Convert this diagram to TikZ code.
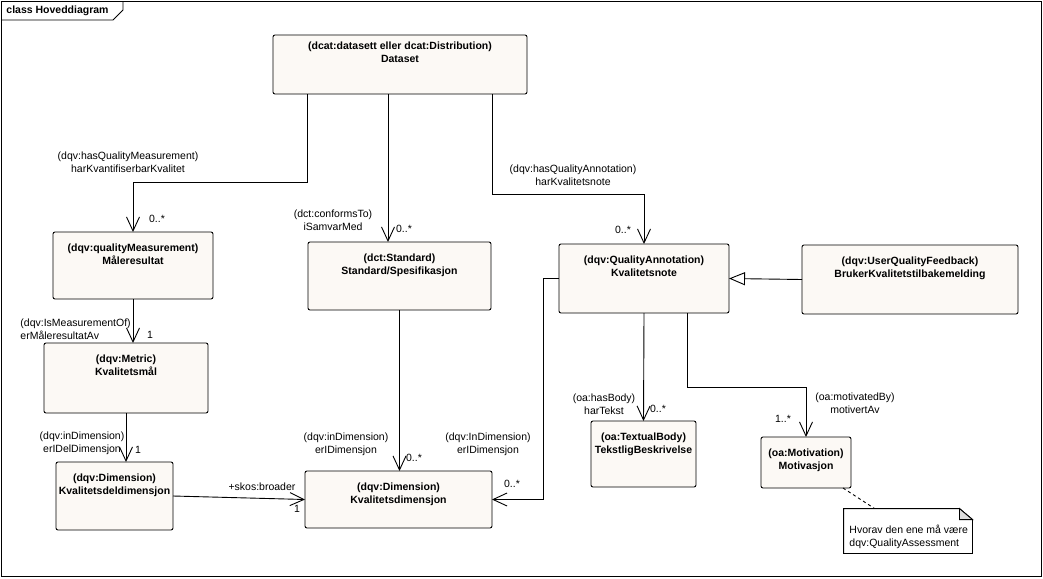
\documentclass[tikz,border=0pt]{standalone}
\usepackage{fontspec}
\setmainfont{Liberation Sans}
\usetikzlibrary{arrows.meta}

\definecolor{classfill}{RGB}{252,249,245}
\definecolor{foldgray}{RGB}{220,220,220}

\begin{document}
\begin{tikzpicture}[x=1pt,y=-1pt,line width=0.9pt,
    every node/.style={font=\fontsize{10.5}{13}\selectfont},
    classbox/.style={draw,rounded corners=2pt,fill=classfill,inner sep=0pt,outer sep=0pt},
    classname/.style={anchor=north,yshift=-11.5pt,align=center,inner sep=0pt,
      font=\fontsize{10.5}{13}\selectfont\bfseries},
    assoc/.style={-{Straight Barb[length=14pt,width=13pt]}},
    gen/.style={-{Triangle[open,length=16pt,width=13pt,fill=white]}},
    role/.style={align=center,inner sep=0pt},
    mult/.style={inner sep=0pt}]

      \useasboundingbox (0,0) rectangle (1043,578);

      % frame
      \draw (1.5,1.5) rectangle (1041.5,576.5);
      \draw (1.5,20) -- (113,20) -- (123,10) -- (123,1.5);
      \node[anchor=west,inner sep=0pt,font=\fontsize{10.5}{13}\selectfont\bfseries] (frametitle) at (6,11) {class Hoveddiagram};

      % classes
      \begin{scope}[every node/.append style={classbox}]
        \node[minimum width=254pt,minimum height=59pt,
          label={[classname,yshift=5pt]north:{(dcat:datasett eller dcat:Distribution)\\Dataset}}] (dataset) at (400,64.5) {};
        \node[minimum width=160pt,minimum height=67pt,
          label={[classname]north:{(dqv:qualityMeasurement)\\Måleresultat}}] (maal) at (133,265.5) {};
        \node[minimum width=164pt,minimum height=70pt,
          label={[classname]north:{(dqv:Metric)\\Kvalitetsmål}}] (metric) at (126,378) {};
        \node[minimum width=117pt,minimum height=68pt,
          label={[classname]north:{(dqv:Dimension)\\Kvalitetsdeldimensjon}}] (deldim) at (114.5,496) {};
        \node[minimum width=183pt,minimum height=68pt,
          label={[classname]north:{(dct:Standard)\\Standard/Spesifikasjon}}] (standard) at (399.5,276) {};
        \node[minimum width=187pt,minimum height=57pt,
          label={[classname]north:{(dqv:Dimension)\\Kvalitetsdimensjon}}] (dim) at (398.5,499.5) {};
        \node[minimum width=170pt,minimum height=69pt,
          label={[classname]north:{(dqv:QualityAnnotation)\\Kvalitetsnote}}] (note) at (644,278.5) {};
        \node[minimum width=216pt,minimum height=69pt,
          label={[classname]north:{(dqv:UserQualityFeedback)\\BrukerKvalitetstilbakemelding}}] (feedback) at (910,279.5) {};
        \node[minimum width=105pt,minimum height=66pt,
          label={[classname]north:{(oa:TextualBody)\\TekstligBeskrivelse}}] (body) at (643.5,454) {};
        \node[minimum width=90pt,minimum height=51pt,
          label={[classname]north:{(oa:Motivation)\\Motivasjon}}] (motiv) at (806,462.5) {};
      \end{scope}

      % comment
      \node[minimum width=128pt,minimum height=44pt,inner sep=0pt] (comment) at (908,531) {};
      \draw[fill=white] (comment.north west) -- ([xshift=-13pt]comment.north east)
        -- ([yshift=-11pt]comment.north east) -- (comment.south east) -- (comment.south west) -- cycle;
      \draw[fill=foldgray] ([xshift=-13pt]comment.north east) -- ([yshift=-11pt]comment.north east)
        -- ([xshift=-13pt,yshift=-11pt]comment.north east) -- cycle;
      \node[anchor=west,align=left,inner sep=0pt] (commenttext) at (849,536.5) {Hvorav den ene må være\\dqv:QualityAssessment};
      \draw[dash pattern=on 3pt off 3pt] ([xshift=-8pt]motiv.south east) -- ([xshift=31pt]comment.north west);

      % connectors
      \draw[assoc] ([xshift=-93pt]dataset.south) |- ([yshift=50pt]maal.north) -- (maal.north);
      \draw[assoc] ([xshift=-12pt]dataset.south) -- ([xshift=-12pt]dataset.south |- standard.north);
      \draw[assoc] ([xshift=92pt]dataset.south) |- ([yshift=50pt]note.north) -- (note.north);
      \draw[assoc] (maal.south) -- (maal.south |- metric.north);
      \draw[assoc] (metric.south) -- (metric.south |- deldim.north);
      \draw[assoc] (deldim.east) -- (dim.west);
      \draw[assoc] (standard.south) -- (standard.south |- dim.north);
      \draw[assoc] (note.west) -- ++(-16,0) |- (dim.east);
      \draw[assoc] (note.south) -- (body.north);
      \draw[assoc] ([xshift=43pt]note.south) |- ([yshift=50pt]motiv.north) -- (motiv.north);
      \draw[gen] (feedback.west) -- (note.east);

      % role names and multiplicities
      \begin{scope}[every node/.append style={role}]
        \node (hqm) at (128,162.5) {(dqv:hasQualityMeasurement)\\harKvantifiserbarKvalitet};
        \node (cto) at (333,220) {(dct:conformsTo)\\iSamvarMed};
        \node (hqa) at (573,175.5) {(dqv:hasQualityAnnotation)\\harKvalitetsnote};
        \node[anchor=west,align=left] (imo) at (20,329) {(dqv:IsMeasurementOf)\\erMåleresultatAv};
        \node (idsub) at (82,443.5) {(dqv:inDimension)\\erIDelDimensjon};
        \node (broader) at (262,487) {+skos:broader};
        \node (idstd) at (346,444) {(dqv:inDimension)\\erIDimensjon};
        \node (idnote) at (488,444) {(dqv:InDimension)\\erIDimensjon};
        \node (hb) at (604,404.5) {(oa:hasBody)\\harTekst};
        \node (mb) at (855,403.5) {(oa:motivatedBy)\\motivertAv};
      \end{scope}

      \begin{scope}[every node/.append style={mult}]
        \node (m1) at (157,219) {0..*};
        \node (m2) at (404,229) {0..*};
        \node (m3) at (623,230) {0..*};
        \node (m4) at (150,335) {1};
        \node (m5) at (138,450) {1};
        \node (m6) at (297,509) {1};
        \node (m7) at (414,458) {0..*};
        \node (m8) at (512,484) {0..*};
        \node (m9) at (658,409) {0..*};
        \node (m10) at (783,419) {1..*};
      \end{scope}

    \end{tikzpicture}
\end{document}
